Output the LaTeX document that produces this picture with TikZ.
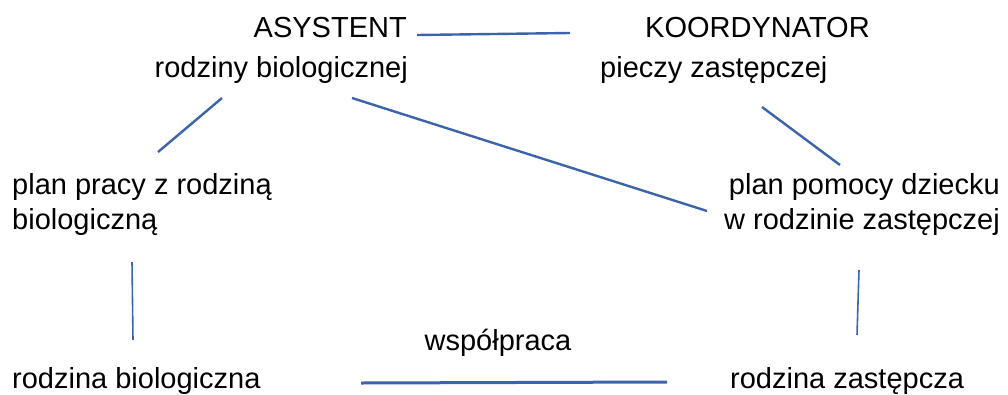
\documentclass[tikz,border=0pt]{standalone}
\usepackage{fontspec}
\setmainfont{Liberation Sans}
\definecolor{linkblue}{RGB}{60,100,170}
\begin{document}
\begin{tikzpicture}[x=1pt,y=-1pt,
    lbl/.style={inner sep=0pt,font=\fontsize{29}{34}\selectfont},
    link/.style={draw=linkblue,line width=2.4pt},
    thinlink/.style={draw=linkblue,line width=1.6pt}]
  \useasboundingbox (0,0) rectangle (1008,394);
  \draw
    (407,37) node[lbl,anchor=base east] (asyst){ASYSTENT}
    (408,77) node[lbl,anchor=base east] (rodzbio){rodziny biologicznej}
    (645,37) node[lbl,anchor=base west] (koord){KOORDYNATOR}
    (600,77) node[lbl,anchor=base west] (piecz){pieczy zastępczej}
    (12,194) node[lbl,anchor=base west] (planpr){plan pracy z rodziną}
    (12,229) node[lbl,anchor=base west] (planprb){biologiczną}
    (1000,194) node[lbl,anchor=base east] (planpo){plan pomocy dziecku}
    (1000,229) node[lbl,anchor=base east] (planpow){w rodzinie zastępczej}
    (498,350) node[lbl,anchor=base] (wspol){współpraca}
    (12,388) node[lbl,anchor=base west] (rodbio){rodzina biologiczna}
    (730,388) node[lbl,anchor=base west] (rodzas){rodzina zastępcza};
  % line ends
  \coordinate (a1) at (417,35);
  \coordinate (k1) at (570,33);
  \coordinate (a2) at (222,98);
  \coordinate (p1) at (158,152);
  \coordinate (a3) at (352,98);
  \coordinate (w1) at (707,211);
  \coordinate (k2) at (762,107);
  \coordinate (w2) at (840,165);
  \coordinate (p2) at (132,262);
  \coordinate (b1) at (133,340);
  \coordinate (w3) at (859,270);
  \coordinate (z1) at (857,335);
  \coordinate (b2) at (361,383);
  \coordinate (z2) at (667,382);
  \begin{scope}[link]
    \draw (a1) to (k1);
    \draw (a2) to (p1);
    \draw (a3) to (w1);
    \draw (k2) to (w2);
    \draw[line width=3pt] (b2) to (z2);
  \end{scope}
  \draw[thinlink] (p2) to (b1);
  \draw[thinlink] (w3) to (z1);
\end{tikzpicture}
\end{document}
